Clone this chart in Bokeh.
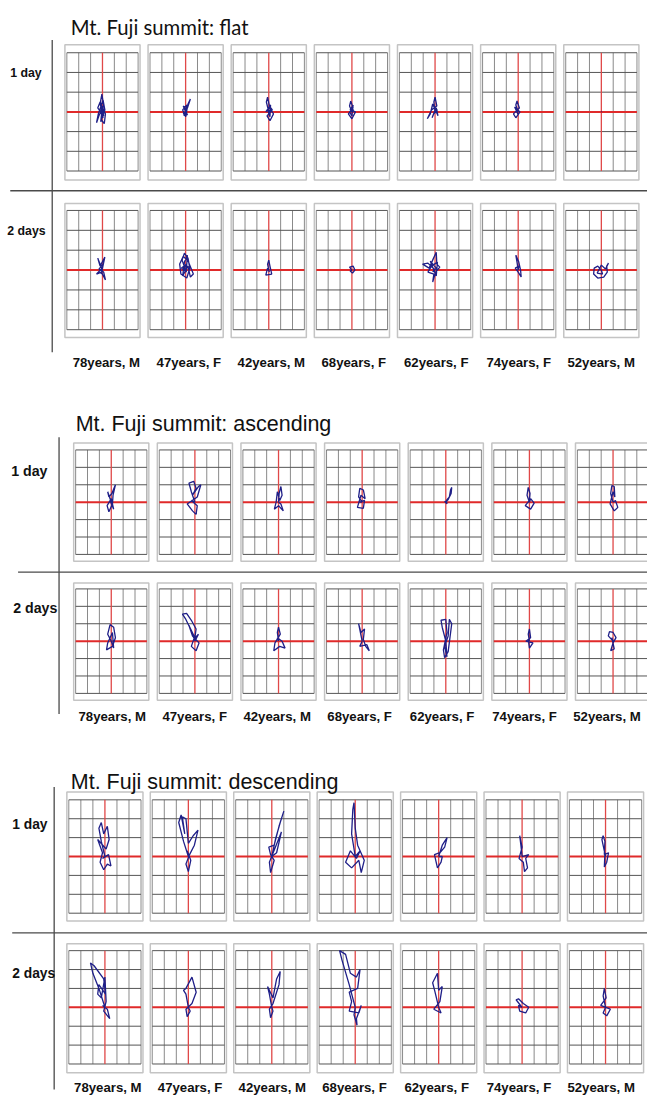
from bokeh.plotting import figure
from bokeh.models import Range1d
from bokeh.embed import file_html
from bokeh.resources import INLINE
from bokeh.core.properties import value

# ---------------- data ----------------
SUBJECTS = ["78years, M", "47years, F", "42years, M", "68years, F",
            "62years, F", "74years, F", "52years, M"]
SECTION_TITLES = ["Mt. Fuji summit: flat", "Mt. Fuji summit: ascending",
                  "Mt. Fuji summit: descending"]
DAY_LABELS = ["1 day", "2 days"]

# sway traces, (x, y) in grid cells (x: left/right, y: forward/back), one list per subject
FLAT_DAY1 = [
    [(0,0),(-0.2,0.4),(-0.05,0.9),(0.1,0.3),(-0.3,-0.2),(-0.5,-0.55),(-0.35,-0.1),(0.05,0.6),(0.2,0.1),(-0.1,-0.4),(0.15,-0.6),(0.25,-0.1),(-0.2,0.5),(-0.4,0.2),(0.1,-0.2),(0,0.3),(-0.15,-0.5),(0.1,0.1),(-0.25,0.1),(0.05,-0.3),(0,0.05)],
    [(0,0),(-0.2,0.3),(0.1,0.1),(-0.15,-0.2),(0.15,0.2),(0.4,0.65),(0.2,0.4),(0,-0.25),(-0.25,0.1),(0.1,0.35),(0.05,-0.1),(-0.1,0.2),(0.15,-0.15),(-0.2,-0.1),(0,0)],
    [(0,0),(-0.2,0.5),(-0.1,0.75),(0.05,0.3),(0.3,0.1),(-0.15,-0.2),(0.1,-0.45),(0.4,-0.1),(0.05,0.2),(-0.25,0),(0.15,0.35),(0.1,-0.25),(-0.1,0.1),(0.2,0.05),(0,0)],
    [(0,0),(-0.2,0.3),(-0.1,0.55),(0.1,0.2),(-0.3,-0.1),(0,-0.35),(0.3,0),(-0.15,0.1),(0.1,0.35),(0,-0.2),(-0.2,0.0),(0.15,0.1),(0,0)],
    [(0,0),(-0.1,0.5),(0,0.75),(0.15,0.3),(-0.3,0.1),(-0.65,-0.35),(-0.4,-0.1),(-0.2,0.4),(0.25,-0.2),(0.1,0.2),(-0.25,-0.3),(0,0.1),(0.2,0.1),(-0.1,-0.1),(0,0)],
    [(0,0),(-0.2,0.35),(-0.1,0.55),(0.1,0.2),(-0.4,-0.1),(-0.2,-0.3),(0.15,0),(-0.3,0.25),(0,-0.15),(-0.15,0.1),(0,0)],
    [(0,0),(0.05,0.02)],
]
FLAT_DAY2 = [
    [(0,0),(-0.4,0.6),(-0.2,0.2),(0.2,0.65),(0,0.1),(-0.5,-0.2),(-0.1,-0.1),(0.25,-0.5),(0.1,-0.1),(-0.3,0.05),(0.05,0.3),(-0.1,-0.2),(0,0)],
    [(0,0),(-0.3,0.5),(-0.1,0.85),(0.2,0.6),(0.35,0.1),(0.1,-0.4),(-0.4,-0.2),(-0.5,0.3),(-0.2,0.7),(0.25,0.4),(0.65,-0.2),(0.4,-0.35),(0.2,0.2),(-0.25,-0.3),(-0.1,0.4),(0.15,0.75),(0.05,-0.1),(-0.35,0.1),(0.1,0.3),(-0.2,0.0),(0,0)],
    [(0,0),(-0.1,0.3),(0,0.5),(0.1,0.2),(0.25,-0.2),(-0.25,-0.25),(-0.1,0.1),(0.05,-0.1),(0,0)],
    [(0,0),(-0.2,0.15),(0.1,0.2),(0.25,0),(0.05,-0.15),(-0.15,-0.05),(0,0)],
    [(0,0),(-0.6,0.35),(-1.05,0.3),(-0.5,0.1),(-0.2,0.5),(0.1,0.9),(0.15,0.3),(0.4,0.15),(0.05,-0.1),(-0.2,-0.6),(-0.1,-0.2),(-0.6,-0.1),(-0.3,0.2),(0.2,0.4),(0.1,-0.3),(-0.4,0.45),(0.1,0.1),(-0.2,-0.1),(0,0)],
    [(0,0),(-0.1,0.4),(-0.2,0.75),(0.05,0.4),(0.2,0),(0.25,-0.35),(0,-0.1),(-0.25,0.1),(0.05,0.2),(0,0)],
    [(0,0),(-0.3,0.2),(-0.6,0.1),(-0.65,-0.2),(-0.3,-0.4),(0.2,-0.35),(0.5,-0.1),(0.45,0.2),(0.6,0.35),(0.35,0.05),(0,0.25),(-0.35,-0.15),(0.1,-0.2),(0,0)],
]
ASC_DAY1 = [
    [(0,0),(-0.3,0.6),(-0.2,0.3),(0.05,0.5),(0.35,1.0),(0.15,0.4),(0.1,-0.1),(-0.2,-0.55),(-0.35,-0.2),(0,0.2),(0.2,-0.4),(-0.1,0.1),(0,0)],
    [(0,0),(-0.3,0.6),(-0.5,1.1),(-0.1,1.2),(0.1,0.8),(-0.2,0.4),(0.3,0.9),(0.5,1.0),(0.2,0.3),(-0.65,-0.1),(-0.2,-0.5),(0.1,-0.7),(0.2,-0.2),(-0.3,0.1),(0,0)],
    [(0,0),(0.05,0.5),(0.2,0.9),(0.3,0.4),(0.1,0.1),(-0.1,0.6),(-0.2,0),(-0.35,-0.4),(0,-0.2),(0.4,-0.5),(0.2,-0.1),(0,0)],
    [(0,0),(-0.3,0.3),(-0.2,0.8),(0.1,0.7),(0.25,0.2),(-0.1,0.4),(-0.4,-0.3),(0.1,-0.35),(0.2,0.1),(-0.2,0),(0,0)],
    [(0,0),(-0.1,0.05),(0.1,-0.1),(0.05,0.1),(0.3,0.3),(0.4,0.7),(0.5,0.85),(0.45,0.5),(0.2,0.15),(0,0)],
    [(0,0),(-0.2,0.4),(-0.1,0.85),(0.05,0.5),(0,0.1),(-0.35,-0.2),(0.1,-0.4),(0.4,-0.05),(0.1,0.2),(0,0)],
    [(0,0),(-0.2,0.5),(-0.1,0.95),(0.1,0.9),(0.15,0.3),(0,0.6),(-0.25,-0.1),(0.1,-0.5),(0.4,-0.3),(0.2,0.1),(0,0)],
]
ASC_DAY2 = [
    [(0,0),(-0.3,0.4),(-0.1,0.95),(0.2,0.8),(0.35,0.2),(0.1,-0.3),(-0.4,-0.5),(-0.3,-0.1),(0.1,0.5),(0.2,-0.4),(0,0)],
    [(0,0),(-0.3,0.6),(-0.8,1.3),(-1.05,1.55),(-0.7,1.6),(-0.3,1.2),(0.1,0.7),(0,0.2),(-0.5,0.9),(-0.2,0.3),(0.35,-0.1),(0.1,-0.55),(-0.3,-0.3),(-0.1,0.1),(0.3,0.4),(0,0)],
    [(0,0),(-0.1,0.5),(0,0.8),(0.15,0.4),(-0.3,-0.1),(-0.4,-0.55),(0.1,-0.3),(0.55,-0.4),(0.3,0),(-0.1,0.2),(0,0)],
    [(0,0),(-0.3,1.0),(-0.1,0.5),(0.2,0.7),(0.1,0.1),(0.3,-0.3),(0.6,-0.55),(0.4,-0.2),(-0.2,-0.3),(0,0)],
    [(0,0),(-0.3,0.8),(-0.4,1.2),(0,1.25),(0.1,0.5),(-0.2,-0.5),(-0.1,-0.95),(0.2,-0.6),(0.5,1.0),(0.3,1.25),(0.2,0.3),(-0.1,-0.3),(0.1,-0.9),(0,0)],
    [(0,0),(-0.1,0.4),(0,0.7),(0.1,0.2),(-0.3,0),(0.3,-0.1),(0,-0.4),(-0.1,0.1),(0,0)],
    [(0,0),(-0.4,0.3),(-0.3,0.55),(0,0.5),(0.25,0.2),(0,-0.1),(-0.2,-0.55),(0.1,-0.45),(-0.1,0.2),(0,0)],
]
DESC_DAY1 = [
    [(0,0),(-0.3,0.8),(-0.5,1.5),(-0.3,1.8),(-0.1,1.2),(0.2,1.6),(0.35,0.9),(0.1,0.4),(-0.6,0.9),(-0.2,0.2),(-0.4,-0.3),(-0.1,-0.7),(0.2,-0.4),(0.5,-0.5),(0.3,0.1),(-0.2,-0.1),(0,0)],
    [(0,0),(-0.4,0.8),(-0.8,1.8),(-0.6,2.2),(-0.3,1.2),(-0.5,2.1),(-0.2,2.0),(0,0.7),(0.4,1.1),(0.8,1.4),(0.5,0.6),(0.1,0.1),(-0.2,-0.4),(0,-0.8),(0.2,-0.2),(-0.1,0.3),(0,0)],
    [(0,0),(0.3,0.9),(0.7,1.8),(1.0,2.4),(0.6,1.6),(0.2,0.6),(-0.25,0.5),(-0.1,0.1),(0.2,-0.2),(-0.1,-0.85),(-0.2,-0.3),(0.8,1.3),(0.4,0.2),(0,0)],
    [(0,0),(-0.3,1.2),(-0.2,2.5),(-0.1,2.85),(0,1.5),(0.2,0.6),(0.75,-0.2),(0.5,-0.85),(0.3,-0.2),(-0.3,-0.6),(-0.8,-0.3),(-0.4,0.3),(0.1,-0.1),(0.4,0.3),(0,0)],
    [(0,0),(0.3,0.6),(0.7,1.0),(0.5,0.5),(0.1,0.2),(-0.35,0.1),(-0.1,-0.6),(0.2,-0.3),(0.3,0),(0,0)],
    [(0,0),(-0.1,0.6),(-0.2,1.1),(0,0.5),(-0.25,-0.1),(0.1,-0.3),(0.2,-0.8),(0.45,-0.6),(0.3,-0.1),(0.55,0.1),(0,0)],
    [(0,0),(-0.3,0.9),(-0.2,1.1),(-0.05,0.8),(-0.1,0.1),(0.25,0.2),(0.1,-0.3),(-0.1,-0.55),(-0.05,0.2),(0,0)],
]
DESC_DAY2 = [
    [(0,0),(-0.5,1.0),(-1.0,1.8),(-1.2,2.35),(-0.9,2.2),(-0.1,1.5),(0.05,0.7),(-0.5,1.2),(-0.6,0.7),(-0.3,0.5),(0,1.6),(0.1,0.3),(-0.1,-0.2),(0.4,-0.6),(0.2,-0.1),(-0.2,0.1),(0,0)],
    [(0,0),(-0.2,0.7),(-0.4,0.9),(-0.2,1.0),(0.3,1.6),(0.65,0.8),(0.3,0.2),(-0.2,-0.1),(-0.1,-0.5),(0.15,-0.2),(0,0)],
    [(0,0),(-0.2,0.7),(-0.35,1.1),(0.1,0.5),(0.4,1.5),(0.7,1.9),(0.6,1.2),(0.1,0.2),(-0.2,-0.1),(-0.1,-0.55),(0.1,-0.2),(0,0)],
    [(0,0),(-0.5,1.2),(-1.1,2.5),(-1.3,3.0),(-0.8,2.8),(-0.4,1.8),(0.1,1.6),(0.4,2.0),(0.2,1.0),(-0.5,0.8),(-0.3,0.3),(-0.5,-0.2),(0.3,-0.3),(0.5,0.1),(0.1,-0.6),(0.15,-0.95),(-0.1,-0.4),(0,0)],
    [(0,0),(-0.3,0.8),(-0.5,1.3),(-0.1,1.8),(0,0.9),(0.3,1.1),(0.1,0.3),(-0.4,-0.1),(0.2,-0.3),(0,0)],
    [(0,0),(-0.5,0.4),(-0.3,0.45),(0.1,0.2),(0.55,0),(0.3,-0.3),(-0.2,-0.2),(-0.3,0.1),(0,0)],
    [(0,0),(-0.2,0.6),(-0.1,1.0),(0.05,0.5),(-0.4,0.1),(0.4,-0.1),(0.1,-0.45),(-0.2,-0.3),(0,0)],
]
TRACES = [[FLAT_DAY1, FLAT_DAY2], [ASC_DAY1, ASC_DAY2], [DESC_DAY1, DESC_DAY2]]

# ---------------- layout (reference-page pixels) ----------------
LAYOUT = [
    dict(title_x=72, title_base=27, title_font="Lato", title_size="20.3px",
         vline=(53, 40, 357), hline=(193, 10), x0=66, pitch=85.2, w=77,
         rows=[(45, 182, 53, 173), (206, 342, 213, 334)],
         day_x=[10, 7], day_base=[74, 234], day_size="12.3px",
         label_base=367, label_x0=108.5, label_pitch=84.5),
    dict(title_x=77, title_base=430, title_font="Liberation Sans", title_size="21.5px",
         vline=(60, 443, 724), hline=(580, 18), x0=75, pitch=85.7, w=77,
         rows=[(449, 569, 456, 562), (591, 710, 597, 703)],
         day_x=[11, 13], day_base=[477, 616], day_size="14.2px",
         label_base=726, label_x0=114.5, label_pitch=84.5),
    dict(title_x=72, title_base=793, title_font="Liberation Sans", title_size="21.5px",
         vline=(55, 798, 1105), hline=(946, 12), x0=68, pitch=85.5, w=78,
         rows=[(803, 934, 811, 926), (957, 1088, 964, 1079)],
         day_x=[12, 12], day_base=[836, 987], day_size="13.8px",
         label_base=1103, label_x0=110, label_pitch=84.25),
]

p = figure(width=647, height=1097, x_range=Range1d(0, 663), y_range=Range1d(1113, 0),
           output_backend="svg", toolbar_location=None, min_border=0)
p.axis.visible = False
p.grid.visible = False
p.outline_line_color = None
p.background_fill_color = "white"
p.border_fill_color = "white"

sep = dict(x0=[], y0=[], x1=[], y1=[])
frames = dict(left=[], right=[], top=[], bottom=[])
gv = dict(x0=[], y0=[], x1=[], y1=[])
gh = dict(x0=[], y0=[], x1=[], y1=[])
rv = dict(x0=[], y0=[], x1=[], y1=[])
rh = dict(x0=[], y0=[], x1=[], y1=[])
tr_x, tr_y = [], []

def add(d, a, b, c, e):
    d["x0"].append(a); d["y0"].append(b); d["x1"].append(c); d["y1"].append(e)

for s, L in enumerate(LAYOUT):
    vx, vy0, vy1 = L["vline"]
    add(sep, vx, vy0, vx, vy1)
    add(sep, L["hline"][1], L["hline"][0], 663, L["hline"][0])
    for r, (ot, ob, it, ib) in enumerate(L["rows"]):
        for i in range(7):
            ox = L["x0"] + i * L["pitch"]
            frames["left"].append(ox); frames["right"].append(ox + L["w"])
            frames["top"].append(ot); frames["bottom"].append(ob)
            il, ir = ox + 2, ox + L["w"] - 2
            cw, ch = (ir - il) / 6.0, (ib - it) / 6.0
            for k in range(7):
                if k == 3:
                    continue
                gx = il + k * cw
                gy = it + k * ch
                add(gv, gx, it, gx, ib)
                add(gh, il, gy, ir, gy)
            cx, cy = il + 3 * cw, it + 3 * ch
            add(rv, cx, it, cx, ib)
            add(rh, il, cy, ir, cy)
            tr = TRACES[s][r][i]
            tr_x.append([cx + x * cw for x, y in tr])
            tr_y.append([cy - y * ch for x, y in tr])

p.quad(left=frames["left"], right=frames["right"], top=frames["top"], bottom=frames["bottom"],
       fill_color="white", line_color="#c4c4c4", line_width=1.5)
p.segment(**gv, line_color="#8a8a8a", line_width=1)
p.segment(**gh, line_color="#555555", line_width=1)
p.segment(**rv, line_color="#e04848", line_width=1.3)
p.segment(**rh, line_color="#e02a2a", line_width=2)
p.multi_line(tr_x, tr_y, line_color="#1f1f88", line_width=1.3)
p.segment(**sep, line_color="#4a4a4a", line_width=1.3)

for s, L in enumerate(LAYOUT):
    p.text(x=[L["title_x"]], y=[L["title_base"]], text=[SECTION_TITLES[s]],
           text_font=value(L["title_font"]), text_font_size=value(L["title_size"]),
           text_color="#111111", text_align="left", text_baseline="alphabetic")
    p.text(x=L["day_x"], y=L["day_base"], text=DAY_LABELS,
           text_font=value("Liberation Sans"), text_font_size=value(L["day_size"]),
           text_font_style="bold", text_color="#111111", text_align="left",
           text_baseline="alphabetic")
    lx = [L["label_x0"] + i * L["label_pitch"] for i in range(7)]
    p.text(x=lx, y=[L["label_base"]] * 7, text=SUBJECTS,
           text_font=value("Liberation Sans"), text_font_size=value("13.2px"),
           text_font_style="bold", text_color="#111111", text_align="center",
           text_baseline="alphabetic")

open("out.html", "w").write(file_html(p, INLINE))
